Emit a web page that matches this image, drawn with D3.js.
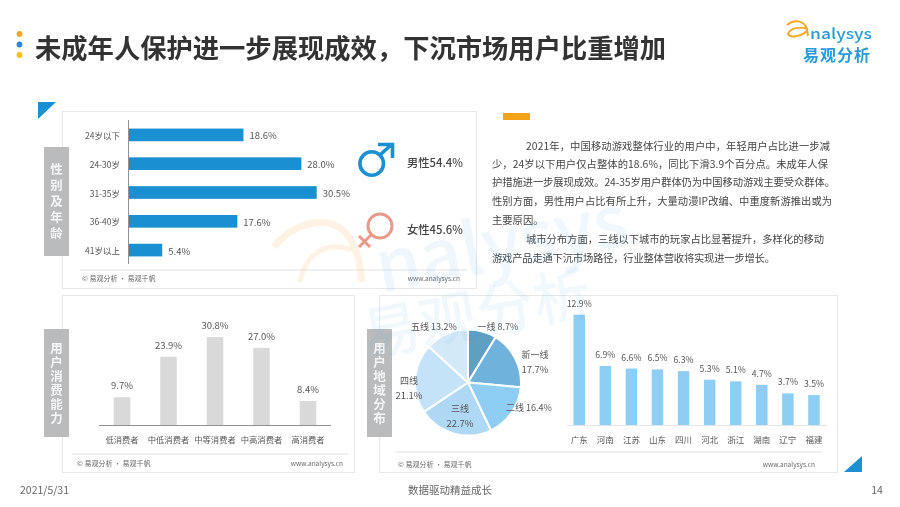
<!DOCTYPE html>
<html><head><meta charset="utf-8">
<script src="https://cdn.jsdelivr.net/npm/d3@7/dist/d3.min.js"></script>
<style>html,body{margin:0;padding:0;background:#fff}svg{display:block;filter:blur(.35px)}text{font-family:"Noto Sans CJK SC","Noto Sans",sans-serif}</style>
</head><body><svg id="c" width="900" height="507"></svg>
<script>
const ageCats=["24岁以下","24-30岁","31-35岁","36-40岁","41岁以上"];
const ageVals=[18.6,28.0,30.5,17.6,5.4];
const spendCats=["低消费者","中低消费者","中等消费者","中高消费者","高消费者"];
const spendVals=[9.7,23.9,30.8,27.0,8.4];
const tierCats=["一线","新一线","二线","三线","四线","五线"];
const tierVals=[8.7,17.7,16.4,22.7,21.1,13.2];
const provCats=["广东","河南","江苏","山东","四川","河北","浙江","湖南","辽宁","福建"];
const provVals=[12.9,6.9,6.6,6.5,6.3,5.3,5.1,4.7,3.7,3.5];
const genderLabels=["男性54.4%","女性45.6%"];
const bodyLines=["2021年，中国移动游戏整体行业的用户中，年轻用户占比进一步减","少，24岁以下用户仅占整体的18.6%，同比下滑3.9个百分点。未成年人保","护措施进一步展现成效。24-35岁用户群体仍为中国移动游戏主要受众群体。","性别方面，男性用户占比有所上升，大量动漫IP改编、中重度新游推出或为","主要原因。","城市分布方面，三线以下城市的玩家占比显著提升，多样化的移动","游戏产品走通下沉市场路径，行业整体营收将实现进一步增长。"];
const svg=d3.select("#c");
const T=(x,y,s,o={})=>svg.append("text").attr("x",x).attr("y",y).attr("text-anchor",o.a||"start").attr("dominant-baseline","central").attr("font-size",o.f||10).attr("font-weight",o.w||400).attr("fill",o.c||"#555").attr("opacity",o.o||null).text(s);
// title
[[34,"#f5a623"],[44.5,"#1a8fd1"],[55,"#f8c012"]].forEach(d=>svg.append("circle").attr("cx",19.5).attr("cy",d[0]).attr("r",2.9).attr("fill",d[1]));
T(35,46.5,"未成年人保护进一步展现成效，下沉市场用户比重增加",{f:26.3,w:700,c:"#333"});
// logo
svg.append("path").attr("d","M787 25 C794 19 804 20 807 29 L808 36 M808 29 C800 26 790 28 788 34 C790 38 800 37 807 31").attr("fill","none").attr("stroke","#f5a623").attr("stroke-width",1.9);
T(810,32.5,"nalysys",{f:14.5,w:500,c:"#2a9bd8"}).attr("textLength",62).attr("lengthAdjust","spacingAndGlyphs");
T(803,54,"易观分析",{f:16,w:700,c:"#2a9bd8"}).attr("textLength",67).attr("lengthAdjust","spacing");
// panels
[[62,111,414,177],[62,295,292,177],[379,295,458,177]].forEach(p=>svg.append("rect").attr("x",p[0]+.5).attr("y",p[1]+.5).attr("width",p[2]).attr("height",p[3]).attr("fill","#fff").attr("stroke","#e6e8ea"));
// corner triangles
svg.append("path").attr("d",d3.line()([[38,102],[56,102],[38,119]])+"Z").attr("fill","#1a8fd1");
svg.append("path").attr("d",d3.line()([[862,456],[862,472],[844,472]])+"Z").attr("fill","#1a8fd1");
// side labels
[[44,147,109,"性别及年龄",3.5],[44,329,108,"用户消费能力",1.5],[367,329,108,"用户地域分布",1.5]].forEach(b=>{
 svg.append("rect").attr("x",b[0]).attr("y",b[1]).attr("width",25).attr("height",b[2]).attr("fill","#b9bbbd");
 T(b[0]+12.5,b[1]+b[2]/2+b[4]/2,b[3],{a:"middle",f:12.5,w:700,c:"#f4f5f6"}).style("writing-mode","vertical-rl").style("letter-spacing",b[4]+"px");
});
// footers
[[80,467,270,278,2,7],[72,348,454,463,5,5],[396,822,452,464,2,7]].forEach(f=>{
 svg.append("line").attr("x1",f[0]).attr("x2",f[1]).attr("y1",f[2]).attr("y2",f[2]).attr("stroke","#dfe1e3");
 T(f[0]+f[4],f[3],"© 易观分析 · 易观千帆",{f:7,c:"#666"});
 T(f[1]-f[5],f[3],"www.analysys.cn",{f:6.5,c:"#666",a:"end"});
});
// age bars
const xA=d3.scaleLinear().domain([0,30.5]).range([129,316.7]);
const yA=d3.scaleBand().domain(ageCats).range([120.5,264.5]).paddingInner(.56).paddingOuter(.28);
svg.selectAll(".a").data(ageVals).join("rect").attr("x",xA(0)).attr("y",(d,i)=>yA(ageCats[i])).attr("width",d=>xA(d)-xA(0)).attr("height",yA.bandwidth()).attr("fill","#1a8fd1");
svg.append("line").attr("x1",128.5).attr("x2",128.5).attr("y1",120).attr("y2",264).attr("stroke","#8f9396");
ageVals.forEach((d,i)=>{const y=yA(ageCats[i])+yA.bandwidth()/2;T(120,y,ageCats[i],{a:"end",f:8.5});T(xA(d)+6,y+.5,d.toFixed(1)+"%",{f:9.5});});
// gender
const M=svg.append("g").attr("fill","none").attr("stroke","#1a8fd1").attr("stroke-width",3.6);
M.append("circle").attr("cx",371.7).attr("cy",163.5).attr("r",11.8);
M.append("path").attr("d","M380 155 L392 144 M378 144.5 H392.5 V158");
const F=svg.append("g").attr("fill","none").attr("stroke","#e9998a").attr("stroke-width",3);
F.append("circle").attr("cx",380).attr("cy",226).attr("r",12);
F.append("path").attr("d","M371.5 234.5 L359 247 M359 236 L370 247");
genderLabels.forEach((s,i)=>T(407,[161.5,228.5][i],s,{f:11.3,w:500,c:"#444"}));
// spend bars
const xS=d3.scaleBand().domain(spendCats).range([99,331]).paddingInner(.645).paddingOuter(.3175);
const yS=d3.scaleLinear().domain([0,30.8]).range([425,337]);
svg.selectAll(".s").data(spendVals).join("rect").attr("x",(d,i)=>xS(spendCats[i])).attr("y",d=>yS(d)).attr("width",xS.bandwidth()).attr("height",d=>yS(0)-yS(d)).attr("fill","#d9d9d9");
svg.append("line").attr("x1",99).attr("x2",331).attr("y1",425.5).attr("y2",425.5).attr("stroke","#8f9396");
spendVals.forEach((d,i)=>{const x=xS(spendCats[i])+xS.bandwidth()/2;T(x,yS(d)-12,d.toFixed(1)+"%",{a:"middle",f:9.5});T(x,439,spendCats[i],{a:"middle",f:8.3});});
// pie
const cx=468,cy=382.5;
const pie=d3.pie().sort(null)(tierVals);
const arc=d3.arc().innerRadius(0).outerRadius(53);
const tierCol=["#5f9fc2","#6fb3dd","#8ecdf4","#aed8f4","#c4e3f8","#d3e9f8"];
svg.append("g").attr("transform",`translate(${cx},${cy})`).selectAll("path").data(pie).join("path").attr("d",arc).attr("fill",(d,i)=>tierCol[i]).attr("stroke","#fff").attr("stroke-width",2);
const pieLab=[[498,326,1],[535,354,2],[529,407,1],[460,408,2],[409,380,2],[434,326,1]];
tierCats.forEach((c,i)=>{const p=pieLab[i],v=tierVals[i].toFixed(1)+"%";
 if(p[2]==1)T(p[0],p[1],c+" "+v,{a:"middle",f:9});
 else{T(p[0],p[1],c,{a:"middle",f:9});T(p[0],p[1]+14.5,v,{a:"middle",f:9.5});}
});
// province bars
const xP=d3.scaleBand().domain(provCats).range([566.2,827]).paddingInner(.56).paddingOuter(.28);
const yP=d3.scaleLinear().domain([0,12.9]).range([425,314.7]);
svg.selectAll(".p").data(provVals).join("rect").attr("x",(d,i)=>xP(provCats[i])).attr("y",d=>yP(d)).attr("width",xP.bandwidth()).attr("height",d=>yP(0)-yP(d)).attr("fill","#8ecdf4");
svg.append("line").attr("x1",567).attr("x2",827).attr("y1",425.5).attr("y2",425.5).attr("stroke","#e3e5e7");
provVals.forEach((d,i)=>{const x=xP(provCats[i])+xP.bandwidth()/2;T(x,yP(d)-11.5,d.toFixed(1)+"%",{a:"middle",f:8.7});T(x,439,provCats[i],{a:"middle",f:8.5});});
// body text
svg.append("rect").attr("x",503).attr("y",113).attr("width",27).attr("height",7).attr("fill","#f5a21b");
const by=[145,163,181,200,219,238,257],bx=[526,492,492,492,492,526,492],bw=[304,336,343,340,null,298,283];
bodyLines.forEach((s,i)=>{const t=T(bx[i],by[i],s,{f:10.3,c:"#444"});if(bw[i])t.attr("textLength",bw[i]).attr("lengthAdjust","spacing");});
// watermark
svg.append("path").attr("d","M274 247 C290 226 325 212 345 232 C358 246 360 265 362 282").attr("fill","none").attr("stroke","#f9d3a2").attr("stroke-width",7).attr("opacity",.3);
svg.append("path").attr("d","M352 250 C325 240 305 255 300 282").attr("fill","none").attr("stroke","#f9d3a2").attr("stroke-width",5).attr("opacity",.3);
T(375,262,"nalysys",{f:72,w:500,c:"#2a9bd8",o:.07}).attr("transform","rotate(-11 375 262)");
T(362,332,"易观分析",{f:58,w:500,c:"#2a9bd8",o:.06}).attr("transform","rotate(-11 362 332)");
// footer
T(20,489,"2021/5/31",{f:10.5,c:"#666"});
T(450,489,"数据驱动精益成长",{a:"middle",f:10.5,c:"#666"});
T(877,489,"14",{a:"middle",f:10.5,c:"#666"});
</script></body></html>
